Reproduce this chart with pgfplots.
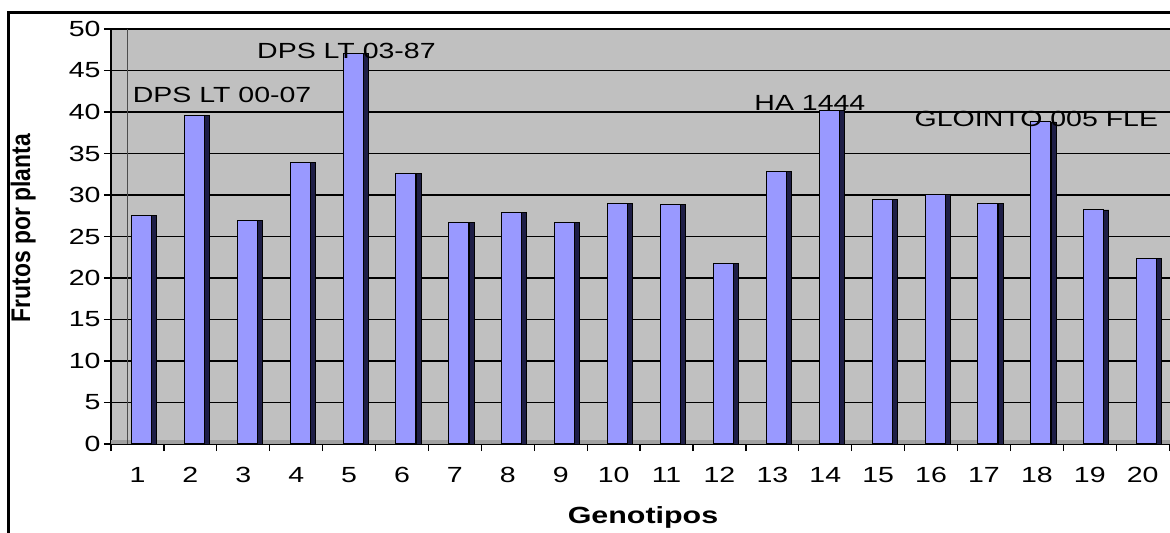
\documentclass[border=0pt]{standalone}
\usepackage{pgfplots}
\pgfplotsset{compat=1.18}
\usepackage{fontspec}
\setmainfont{Liberation Sans}[FakeStretch=1.3]
\newfontfamily\ylabfont{Liberation Sans}[FakeStretch=0.85]
\definecolor{barblue}{RGB}{153,153,255}
\definecolor{barside}{RGB}{30,30,70}
\definecolor{wallgray}{RGB}{192,192,192}
\definecolor{floorgray}{RGB}{160,160,160}
\begin{document}
\begin{tikzpicture}
\pgfplotstableread{
x y
1 27.5
2 39.6
3 26.9
4 33.9
5 47.1
6 32.6
7 26.7
8 27.9
9 26.7
10 29.0
11 28.9
12 21.8
13 32.8
14 40.2
15 29.5
16 30.1
17 29.0
18 38.8
19 28.2
20 22.4
}\datatable
\begin{axis}[
  at={(111bp,89bp)}, anchor=south west,
  scale only axis, width=1064bp, height=415bp,
  xmin=0.5, xmax=20.61, ymin=0, ymax=50,
  axis lines=left, axis line style={-, black, line width=1.5bp},
  axis background/.style={fill=wallgray},
  ytick={0,5,...,50},
  xtick={1,...,20},
  minor xtick={0.5,1.5,...,20.5},
  tick align=outside,
  major tick length=7bp, minor tick length=7bp,
  major x tick style={draw=none},
  tick style={black, line width=1.2bp},
  ymajorgrids, grid style={black, line width=1.5bp},
  /pgf/number format/assume math mode=true,
  tick label style={font=\fontsize{22}{22}\selectfont},
  xticklabel style={yshift=-13bp},
  xlabel={Genotipos},
  ylabel={Frutos por planta},
  xlabel style={font=\fontsize{23.5}{23.5}\selectfont\bfseries, at={(axis description cs:0.5,-0.176)}, anchor=center},
  ylabel style={font=\fontsize{27}{27}\ylabfont\bfseries, at={(axis description cs:-0.0826,0.52)}, anchor=center, rotate=0},
  clip=false,
]
\fill[floorgray] (axis cs:0.5,0) rectangle (axis cs:20.61,0.45);
\draw[gray!60!black, line width=1bp] (axis cs:0.82,0) -- (axis cs:0.82,50);
\addplot[ybar, bar width=5bp, bar shift=16.5bp, fill=barside, draw=black, line width=0.8bp] table[x=x,y=y]{\datatable};
\addplot[ybar, bar width=20bp, bar shift=4bp, fill=barblue, draw=black, line width=1bp] table[x=x,y=y]{\datatable};
\node[anchor=base, font=\fontsize{22}{22}\selectfont] at (axis cs:2.60,41.1) {DPS LT 00-07};
\node[anchor=base, font=\fontsize{22}{22}\selectfont] at (axis cs:4.95,46.4) {DPS LT 03-87};
\node[anchor=base, font=\fontsize{22}{22}\selectfont] at (axis cs:13.71,40.2) {HA 1444};
\node[anchor=base, font=\fontsize{22}{22}\selectfont] at (axis cs:17.99,38.2) {GLOINTO 005 FLE};
\end{axis}
\draw[black, line width=3bp] (8bp,0bp) -- (8bp,520bp) -- (1180bp,520bp);
\pgfresetboundingbox
\path[use as bounding box] (0,0) rectangle (1170bp,533bp);
\end{tikzpicture}
\end{document}
